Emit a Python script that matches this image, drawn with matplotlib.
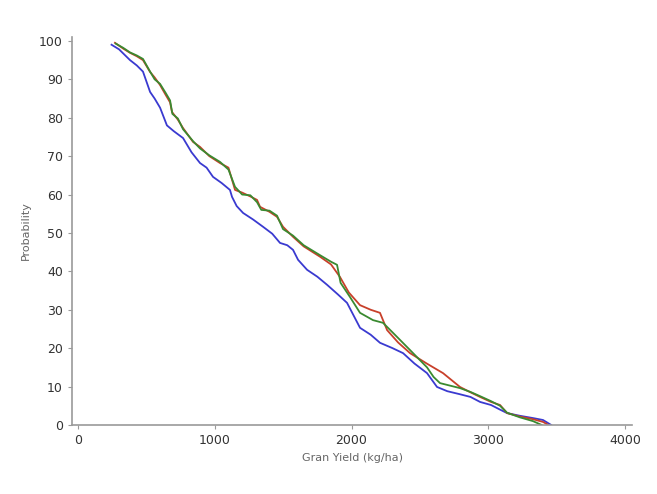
import numpy as np
import matplotlib
matplotlib.use("Agg")
import matplotlib.pyplot as plt

# cumulative probability of exceedance for grain yield, three runs
blue_yield = [245, 300, 380, 430, 475, 527, 560, 600, 650, 700, 768, 830, 892, 940,
              987, 1050, 1111, 1126, 1160, 1207, 1280, 1353, 1420, 1477, 1530, 1572,
              1609, 1675, 1750, 1821, 1900, 1967, 2062, 2140, 2208, 2300, 2377, 2460,
              2552, 2625, 2700, 2793, 2870, 2940, 3020, 3086, 3137, 3230, 3327, 3400, 3460]
blue_prob = [99.0, 97.8, 95.0, 93.6, 92.0, 86.7, 85.0, 82.6, 78.0, 76.5, 74.7, 71.0, 68.2, 67.0,
             64.6, 63.0, 61.2, 59.4, 57.0, 55.2, 53.5, 51.6, 49.8, 47.4, 46.8, 45.6,
             43.0, 40.4, 38.6, 36.5, 34.0, 31.8, 25.3, 23.5, 21.4, 20.0, 18.7, 16.0,
             13.5, 9.9, 8.8, 8.0, 7.3, 6.0, 5.2, 4.0, 3.1, 2.4, 1.8, 1.3, 0.0]

red_yield = [270, 330, 380, 430, 475, 527, 560, 600, 640, 673, 687, 730, 768, 841, 892,
             960, 1038, 1100, 1148, 1200, 1260, 1309, 1331, 1400, 1455, 1499, 1572,
             1650, 1770, 1850, 1916, 1980, 2062, 2140, 2208, 2260, 2340, 2428, 2550,
             2669, 2793, 2870, 2940, 3020, 3086, 3137, 3230, 3327, 3400, 3440]
red_prob = [99.5, 98.0, 96.9, 96.0, 95.0, 91.9, 90.5, 88.5, 86.0, 84.0, 81.5, 79.5, 77.3, 73.7, 72.4,
            70.0, 68.2, 67.0, 61.2, 60.5, 59.5, 58.6, 56.8, 55.5, 54.2, 51.6, 49.0,
            46.5, 43.8, 41.8, 38.5, 34.5, 31.2, 30.0, 29.2, 24.7, 21.5, 18.7, 16.0,
            13.5, 9.9, 8.5, 7.3, 6.0, 5.2, 3.1, 2.2, 1.5, 0.8, 0.0]

green_yield = [275, 330, 380, 430, 475, 527, 560, 600, 640, 673, 690, 730, 768, 841, 892,
               960, 1038, 1100, 1148, 1200, 1260, 1309, 1340, 1400, 1455, 1499, 1572,
               1650, 1770, 1850, 1894, 1920, 1989, 2062, 2157, 2230, 2303, 2428, 2552,
               2600, 2647, 2793, 2870, 2940, 3020, 3086, 3137, 3230, 3327, 3390]
green_prob = [99.3, 98.2, 97.0, 96.2, 95.3, 92.0, 90.0, 88.8, 86.5, 84.5, 81.0, 79.8, 77.0, 73.9, 72.0,
              70.2, 68.5, 66.5, 62.0, 60.0, 59.8, 58.0, 56.0, 55.8, 54.5, 51.0, 49.3,
              46.8, 44.2, 42.5, 41.7, 37.0, 33.3, 29.2, 27.3, 26.6, 24.0, 19.5, 15.0,
              12.5, 10.9, 9.6, 8.6, 7.5, 6.2, 5.0, 3.2, 2.0, 1.0, 0.0]

x_ticks = [0, 1000, 2000, 3000, 4000]
y_ticks = [0, 10, 20, 30, 40, 50, 60, 70, 80, 90, 100]

fig = plt.figure(figsize=(6.57, 4.94), dpi=100)
ax = fig.add_axes([0.1096, 0.1397, 0.8524, 0.7853])

ax.plot(blue_yield, blue_prob, color='#3a3ad0', lw=1.3)
ax.plot(red_yield, red_prob, color='#c8402a', lw=1.3)
ax.plot(green_yield, green_prob, color='#3a8a30', lw=1.3)

ax.set_xlim(-44, 4051)
ax.set_ylim(0, 101)
ax.set_xticks(x_ticks)
ax.set_yticks(y_ticks)

for side in ['top', 'right']:
    ax.spines[side].set_visible(False)
for side in ['left', 'bottom']:
    ax.spines[side].set_color('#9a9a9a')
    ax.spines[side].set_linewidth(1.2)

ax.tick_params(colors='#9a9a9a', length=3, labelsize=9, labelcolor='#333333')
ax.set_xlabel('Gran Yield (kg/ha)', fontsize=8, color='#666666', labelpad=4)
ax.set_ylabel('Probability', fontsize=8, color='#666666', labelpad=6)

fig.savefig('out.png', dpi=100)
